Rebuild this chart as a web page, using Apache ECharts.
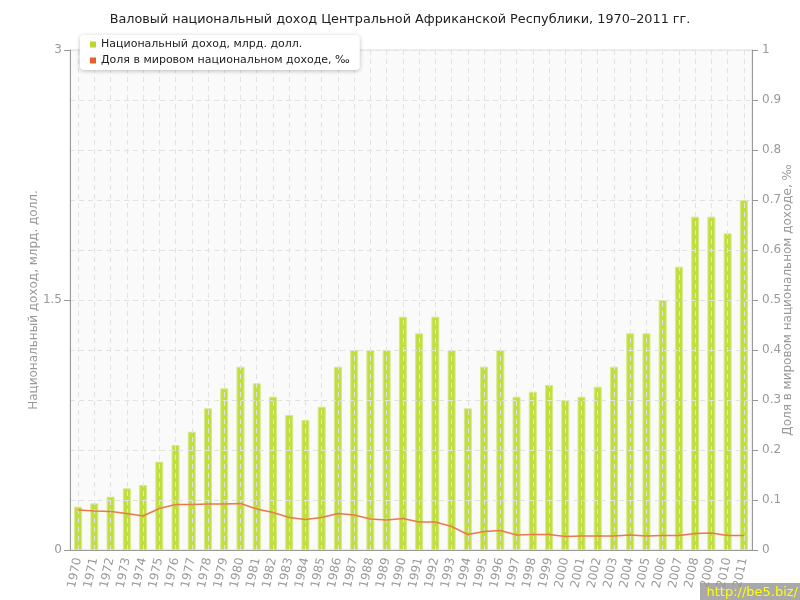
<!DOCTYPE html>
<html>
<head>
<meta charset="utf-8">
<script src="https://cdn.jsdelivr.net/npm/echarts@6/dist/echarts.min.js"></script>
<style>html,body{margin:0;padding:0;background:#fff}#c{width:800px;height:600px}</style>
</head>
<body>
<div id="c"></div>
<script>
const years = ['1970','1971','1972','1973','1974','1975','1976','1977','1978','1979','1980','1981','1982','1983','1984','1985','1986','1987','1988','1989','1990','1991','1992','1993','1994','1995','1996','1997','1998','1999','2000','2001','2002','2003','2004','2005','2006','2007','2008','2009','2010','2011'];
const incomeBn = [0.26,0.28,0.32,0.37,0.39,0.53,0.63,0.71,0.85,0.97,1.10,1.00,0.92,0.81,0.78,0.86,1.10,1.20,1.20,1.20,1.40,1.30,1.40,1.20,0.85,1.10,1.20,0.92,0.95,0.99,0.90,0.92,0.98,1.10,1.30,1.30,1.50,1.70,2.00,2.00,1.90,2.10];
const worldShare = [0.080,0.078,0.077,0.073,0.068,0.083,0.091,0.091,0.092,0.092,0.093,0.082,0.075,0.065,0.061,0.065,0.073,0.070,0.062,0.060,0.063,0.056,0.056,0.047,0.031,0.037,0.039,0.030,0.031,0.031,0.027,0.028,0.028,0.028,0.030,0.028,0.029,0.029,0.033,0.034,0.029,0.029];
const leftTicks = [0, 1.5, 3];
const rightTicks = [0, 1];

const font = 'DejaVu Sans, Verdana, sans-serif';
const chart = echarts.init(document.getElementById('c'));
chart.setOption({
  animation: false,
  backgroundColor: '#fff',
  title: {
    text: 'Валовый национальный доход Центральной Африканской Республики, 1970–2011 гг.',
    left: 'center', top: 8,
    textStyle: {fontFamily: font, fontSize: 12.8, fontWeight: 'normal', color: '#222'}
  },
  legend: {
    left: 80, top: 35, orient: 'vertical',
    backgroundColor: '#fff', borderRadius: 4,
    shadowColor: 'rgba(0,0,0,0.25)', shadowBlur: 4, shadowOffsetY: 1,
    padding: [4, 10, 4, 10], itemGap: 5,
    itemWidth: 6, itemHeight: 6, icon: 'rect',
    textStyle: {fontFamily: font, fontSize: 11, color: '#222'},
    data: [
      {name: 'Национальный доход, млрд. долл.', itemStyle: {color: '#b8d932', borderWidth: 0}},
      {name: 'Доля в мировом национальном доходе, ‰', itemStyle: {color: '#e5622b'}}
    ]
  },
  grid: {left: 70, right: 48, top: 50, bottom: 50, show: true, backgroundColor: '#fafafa', borderColor: '#dedede', borderWidth: 1, containLabel: false, outerBoundsMode: 'none'},
  xAxis: {
    type: 'category', data: years, z: 3,
    axisLine: {lineStyle: {color: '#999'}},
    axisTick: {alignWithLabel: true, length: 5, lineStyle: {color: '#999'}},
    axisLabel: {rotate: 78, fontFamily: font, fontSize: 12, color: '#999', margin: 8, interval: 0},
    splitLine: {show: true, alignWithLabel: true, lineStyle: {color: '#e2e2e2', type: [5, 4]}}
  },
  yAxis: [{
    type: 'value', min: leftTicks[0], max: leftTicks[2], interval: 1.5, z: 3,
    name: 'Национальный доход, млрд. долл.', nameLocation: 'middle', nameGap: 30, nameMoveOverlap: false,
    nameTextStyle: {fontFamily: font, fontSize: 12, color: '#999'},
    axisLine: {show: true, lineStyle: {color: '#999'}},
    axisTick: {show: true, length: 6, lineStyle: {color: '#999'}},
    axisLabel: {fontFamily: font, fontSize: 12, color: '#999', margin: 8},
    splitLine: {show: false}
  }, {
    type: 'value', min: rightTicks[0], max: rightTicks[1], interval: 0.1, z: 3,
    name: 'Доля в мировом национальном доходе, ‰', nameLocation: 'middle', nameGap: 30, nameMoveOverlap: false,
    nameTextStyle: {fontFamily: font, fontSize: 12, color: '#999'},
    axisLine: {show: true, lineStyle: {color: '#999'}},
    axisTick: {show: true, length: 6, lineStyle: {color: '#999'}},
    axisLabel: {fontFamily: font, fontSize: 12, color: '#999', margin: 10,
      formatter: v => (Math.round(v * 10) / 10).toString()},
    splitLine: {show: true, lineStyle: {color: '#e2e2e2', type: [5, 4]}}
  }],
  series: [{
    name: 'Национальный доход, млрд. долл.', type: 'bar', data: incomeBn, yAxisIndex: 0,
    barWidth: 8, z: 2,
    itemStyle: {color: '#c0de40', borderColor: '#d6ea85', borderWidth: 1}
  }, {
    name: 'Доля в мировом национальном доходе, ‰', type: 'line', data: worldShare, yAxisIndex: 1,
    showSymbol: false, symbol: 'none', z: 5,
    itemStyle: {color: '#e5622b'},
    lineStyle: {color: '#e97a4a', width: 1.5}
  }],
  graphic: [{
    type: 'rect', right: 0, bottom: 0, shape: {width: 100, height: 17},
    style: {fill: 'rgba(140,140,140,0.75)'}
  }, {
    type: 'text', right: 2, bottom: 1,
    style: {text: 'http://be5.biz/', fill: '#ffff00', font: '13px DejaVu Sans, sans-serif'}
  }]
});
</script>
</body>
</html>
